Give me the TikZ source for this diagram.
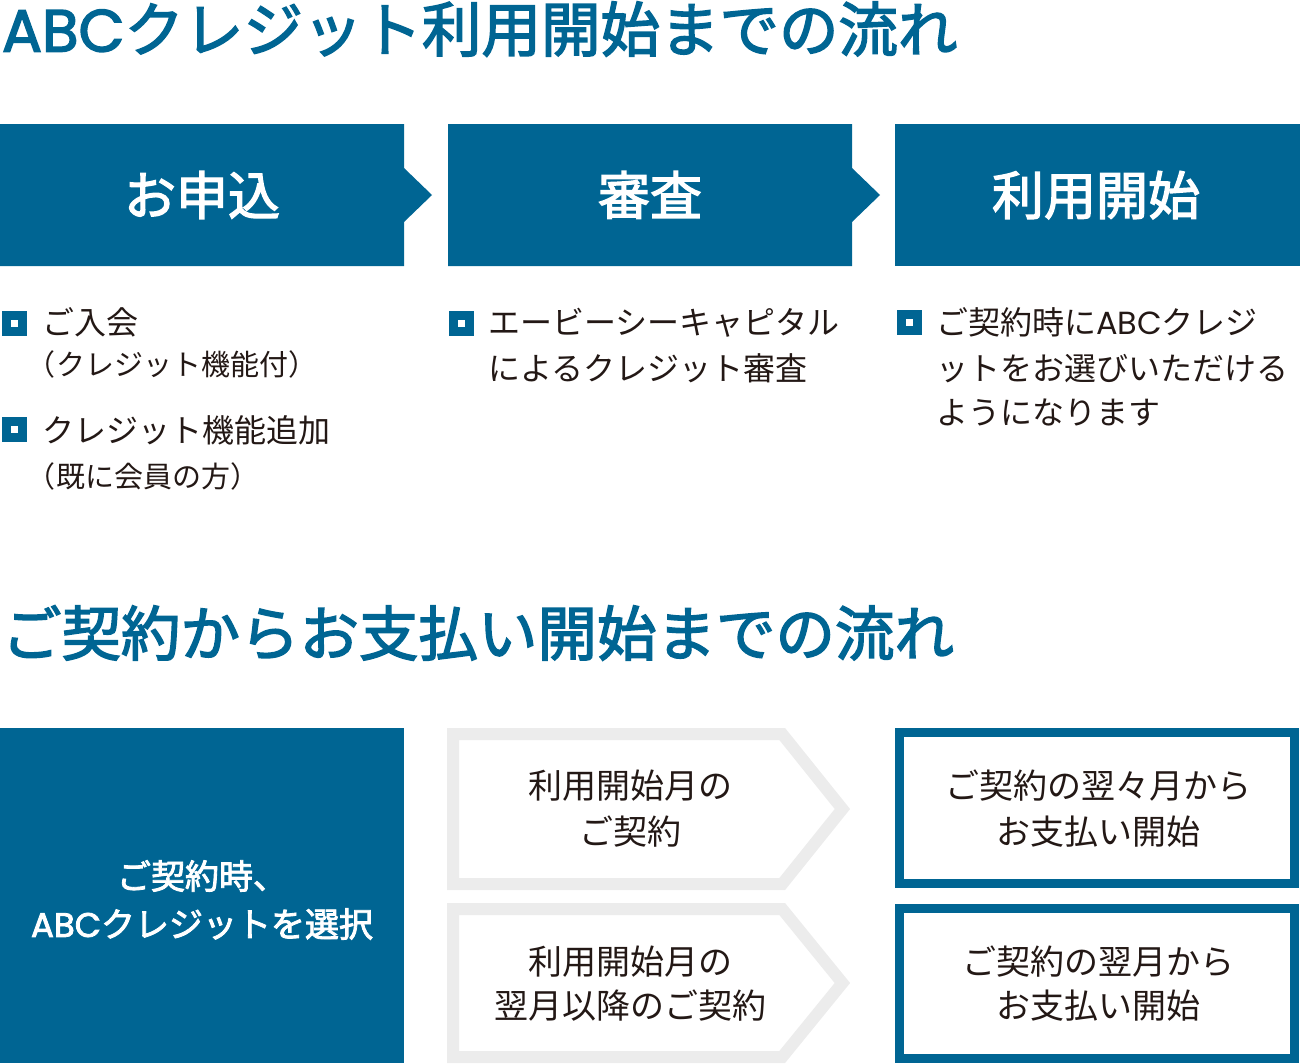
\documentclass[tikz,border=0pt]{standalone}
\usepackage{fontspec}
\newfontfamily\jp{Noto Sans CJK JP}
\newfontfamily\jpmed[FakeBold=2.5]{Noto Sans CJK JP}
\newfontfamily\latinabc{Poppins}
\newfontfamily\latinabcmed[FakeBold=2.5]{Poppins}
\newcommand{\abc}{{\latinabc ABC}}
\newcommand{\abcmed}{{\latinabcmed ABC}}
\definecolor{brand}{RGB}{0,101,147}
\definecolor{ink}{RGB}{35,24,21}
\definecolor{lightgrey}{RGB}{236,236,236}
\begin{document}
\begin{tikzpicture}[x=1pt,y=-1pt,
  txt/.style={inner sep=0pt, outer sep=0pt},
  titletext/.style={txt, anchor=west, text=brand, font=\jpmed\fontsize{59.5}{59.5}\selectfont, text height=52.3pt, text depth=7.2pt},
  headtext/.style={txt, text=white, font=\jpmed\fontsize{52}{52}\selectfont, text height=45.8pt, text depth=6.2pt},
  bodytext/.style={txt, anchor=west, text=ink, font=\jp\fontsize{32}{32}\selectfont, text height=28pt, text depth=4pt},
  subtext/.style={txt, anchor=west, text=ink, font=\jp\fontsize{29}{29}\selectfont, text height=25.5pt, text depth=3.5pt},
  boxtext/.style={txt, text=ink, font=\jp\fontsize{34}{34}\selectfont, text height=29.9pt, text depth=4.1pt},
  whitetext/.style={txt, text=white, font=\jpmed\fontsize{34}{34}\selectfont, text height=29.9pt, text depth=4.1pt},
  bulletsq/.style={fill=brand, minimum size=25pt, inner sep=0pt, outer sep=0pt},
  bulletdot/.style={fill=white, minimum size=7pt, inner sep=0pt, outer sep=0pt},
  greyarrow/.style={draw=lightgrey, line width=12pt, line join=miter, fill=white},
  bluebox/.style={draw=brand, line width=9pt, fill=white}
]
\path[use as bounding box] (0,0) rectangle (1300,1063);

% ---------- Section 1 ----------
\node[titletext] (title1) at (2,29) {\abcmed クレジット利用開始までの流れ};

\fill[brand] (0,124) -- (404,124) -- (404,168) -- (432,195) -- (404,222) -- (404,266) -- (0,266) -- cycle;
\fill[brand] (448,124) -- (852,124) -- (852,168) -- (880,195) -- (852,222) -- (852,266) -- (448,266) -- cycle;
\fill[brand] (895,124) rectangle (1300,266);

\node[headtext] (h1) at (202,195) {お申込};
\node[headtext] (h2) at (650,195) {審査};
\node[headtext] (h3) at (1096,195) {利用開始};

% bullets column 1
\node[bulletsq] (b1) at (14,323) {};
\node[bulletdot] (b1d) at (b1) {};
\node[bodytext] (l1a) at (42,322) {ご入会};
\node[subtext] (l1b) at (27,364) {（クレジット機能付）};
\node[bulletsq] (b2) at (14,429) {};
\node[bulletdot] (b2d) at (b2) {};
\node[bodytext] (l2a) at (42,430) {クレジット機能追加};
\node[subtext] (l2b) at (27,476) {（既に会員の方）};

% bullets column 2
\node[bulletsq] (b3) at (461,323) {};
\node[bulletdot] (b3d) at (b3) {};
\node[bodytext] (m1) at (488,322) {エービーシーキャピタル};
\node[bodytext] (m2) at (488,368) {によるクレジット審査};

% bullets column 3
\node[bulletsq] (b4) at (909,322) {};
\node[bulletdot] (b4d) at (b4) {};
\node[bodytext] (r1) at (936,322) {ご契約時に\abc クレジ};
\node[bodytext] (r2) at (936,368) {ットをお選びいただける};
\node[bodytext] (r3) at (936,412) {ようになります};

% ---------- Section 2 ----------
\node[titletext] (title2) at (2,633) {ご契約からお支払い開始までの流れ};

\fill[brand] (0,728) rectangle (404,1063);
\node[whitetext] (s1) at (202,876) {ご契約時、};
\node[whitetext] (s2) at (202,924) {\abcmed クレジットを選択};

\path[greyarrow] (453,734) -- (782.2,734) -- (842.4,809) -- (782.2,884) -- (453,884) -- cycle;
\path[greyarrow] (453,909) -- (782.2,909) -- (842.4,983) -- (782.2,1057) -- (453,1057) -- cycle;
\node[boxtext] (g1a) at (630,786) {利用開始月の};
\node[boxtext] (g1b) at (630,832) {ご契約};
\node[boxtext] (g2a) at (630,962) {利用開始月の};
\node[boxtext] (g2b) at (630,1006) {翌月以降のご契約};

\path[bluebox] (899.5,732.5) rectangle (1294.5,883.5);
\path[bluebox] (899.5,908.5) rectangle (1294.5,1058.5);
\node[boxtext] (p1a) at (1098,786) {ご契約の翌々月から};
\node[boxtext] (p1b) at (1098,832) {お支払い開始};
\node[boxtext] (p2a) at (1098,962) {ご契約の翌月から};
\node[boxtext] (p2b) at (1098,1006) {お支払い開始};
\end{tikzpicture}
\end{document}
